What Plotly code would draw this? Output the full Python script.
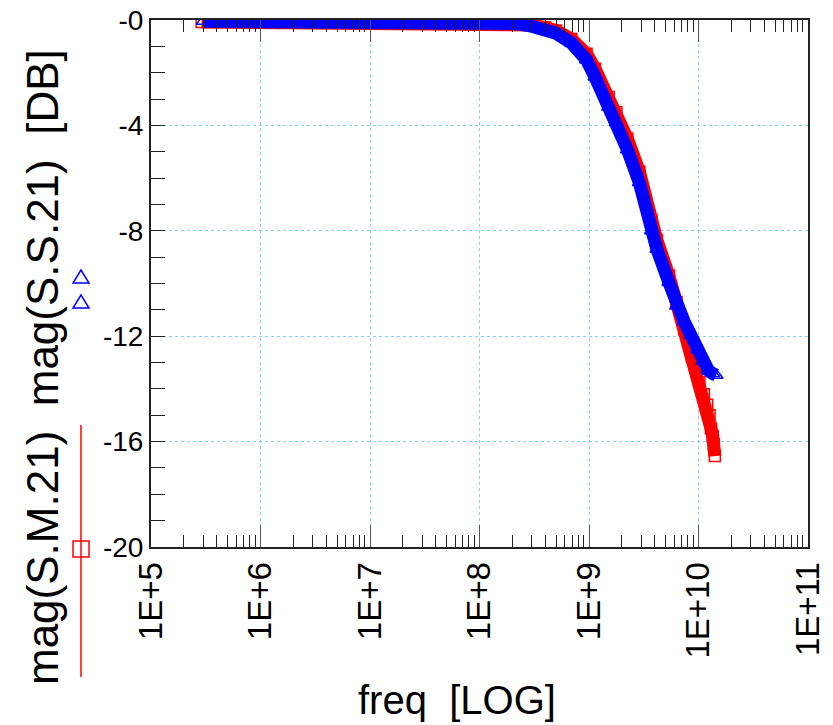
import plotly.graph_objects as go

# ---------------- data ----------------
# mag(S.M.21) [dB]  (red squares)
freq_sm = [2.9e5, 4.0e5, 6.0e5, 1.0e6, 1.5e6, 2.5e6, 4.0e6, 6.0e6, 1.0e7, 1.5e7,
           2.5e7, 4.0e7, 6.0e7, 1.0e8, 2.04e8, 2.88e8, 3.98e8, 5.0e8, 6.9e8,
           9.5e8, 1.135e9, 1.51e9, 1.78e9, 2.24e9, 2.88e9, 3.72e9, 4.17e9,
           5.37e9, 6.3e9, 7.4e9, 8.7e9, 1.02e10, 1.12e10, 1.2e10, 1.26e10,
           1.30e10, 1.35e10, 1.38e10, 1.41e10]
db_sm = [-0.08, -0.08, -0.08, -0.08, -0.08, -0.08, -0.08, -0.08, -0.08, -0.08,
         -0.08, -0.08, -0.08, -0.08, -0.13, -0.19, -0.28, -0.40, -0.72,
         -1.28, -1.85, -2.92, -3.50, -4.50, -5.75, -7.6, -8.35,
         -9.7, -10.7, -11.74, -12.77, -13.75, -14.2, -14.6, -15.0,
         -15.5, -15.8, -16.1, -16.55]

# mag(S.S.21) [dB]  (blue triangles)
freq_ss = [3.0e5, 4.0e5, 6.0e5, 1.0e6, 1.5e6, 2.5e6, 4.0e6, 6.0e6, 1.0e7, 1.5e7,
           2.5e7, 4.0e7, 6.0e7, 1.0e8, 2.04e8, 2.88e8, 3.98e8, 5.0e8, 6.9e8,
           9.5e8, 1.135e9, 1.51e9, 1.78e9, 2.24e9, 2.88e9, 3.72e9, 4.17e9,
           5.37e9, 6.3e9, 7.4e9, 8.5e9, 9.8e9, 1.1e10, 1.23e10, 1.35e10, 1.45e10]
db_ss = [-0.05, -0.05, -0.05, -0.05, -0.05, -0.05, -0.05, -0.05, -0.05, -0.05,
         -0.05, -0.05, -0.05, -0.05, -0.13, -0.22, -0.36, -0.50, -0.87,
         -1.52, -2.16, -3.30, -3.90, -4.92, -6.17, -8.0, -8.7,
         -9.96, -10.85, -11.45, -11.95, -12.5, -12.95, -13.3, -13.42, -13.48]

x_tickvals = [1e5, 1e6, 1e7, 1e8, 1e9, 1e10, 1e11]
x_ticktext = ["1E+5", "1E+6", "1E+7", "1E+8", "1E+9", "1E+10", "1E+11"]
y_tickvals = [0, -4, -8, -12, -16, -20]
y_ticktext = ["-0", "-4", "-8", "-12", "-16", "-20"]
x_minor = [m * 10 ** e for e in range(5, 11) for m in range(2, 10)]

# ---------------- figure ----------------
W, H = 833, 725
FONT = "Liberation Sans, Arial, Helvetica, sans-serif"
GRID = "#87cefa"


def px(x):
    return x / W


def py(y):
    return 1 - y / H


fig = go.Figure()
fig.add_trace(go.Scatter(
    x=freq_sm, y=db_sm, mode="lines+markers", showlegend=False,
    line=dict(color="#ff0000", width=13),
    marker=dict(symbol="square-open", size=11, color="#ff0000", line=dict(width=1.5)),
))
fig.add_trace(go.Scatter(
    x=freq_ss, y=db_ss, mode="lines+markers", showlegend=False,
    line=dict(color="#0000ff", width=13),
    marker=dict(symbol="triangle-up-open", size=12, color="#0000ff", line=dict(width=1.5)),
))

fig.update_layout(
    width=W, height=H,
    margin=dict(l=0, r=0, t=0, b=0),
    paper_bgcolor="white", plot_bgcolor="white",
    font=dict(family=FONT, color="black"),
    xaxis=dict(
        type="log", domain=[px(151), px(808)], range=[5, 11],
        tickmode="array", tickvals=x_tickvals, ticktext=x_ticktext,
        tickangle=-90, tickfont=dict(size=33, family=FONT, color="black"),
        ticks="inside", ticklen=22, tickwidth=1, tickcolor="#555",
        showgrid=True, gridcolor=GRID, griddash="dot", gridwidth=1,
        showline=True, linecolor="#222", linewidth=2, mirror="ticks",
        zeroline=False, automargin=False,
        minor=dict(tickmode="array", tickvals=x_minor, ticks="inside",
                   ticklen=12, tickwidth=1, tickcolor="#222", showgrid=False),
    ),
    yaxis=dict(
        domain=[py(547), py(20)], range=[-20, 0],
        tickmode="array", tickvals=y_tickvals, ticktext=y_ticktext,
        tickfont=dict(size=28, family=FONT, color="black"),
        ticks="inside", ticklen=14, tickwidth=1, tickcolor="#222",
        showgrid=True, gridcolor=GRID, griddash="dot", gridwidth=1,
        showline=True, linecolor="#222", linewidth=2, mirror=True,
        zeroline=False, automargin=False,
        minor=dict(tick0=0, dtick=1, ticks="inside", ticklen=14, tickwidth=1,
                   tickcolor="#222", showgrid=False),
    ),
    annotations=[
        dict(text="mag(S.M.21)\u00a0\u00a0mag(S.S.21)\u00a0\u00a0[DB]",
             xref="paper", yref="paper", x=px(42), y=py(367),
             xanchor="center", yanchor="middle", textangle=-90, showarrow=False,
             font=dict(size=44, family=FONT, color="black")),
        dict(text="freq\u00a0\u00a0[LOG]",
             xref="paper", yref="paper", x=px(457), y=py(700),
             xanchor="center", yanchor="middle", showarrow=False,
             font=dict(size=40, family=FONT, color="black")),
    ],
)

# legend glyphs beside the y title
shapes = [
    dict(type="line", xref="paper", yref="paper", x0=px(81), x1=px(81),
         y0=py(425), y1=py(677), line=dict(color="#ff0000", width=1.5)),
    dict(type="rect", xref="paper", yref="paper", x0=px(73), x1=px(89),
         y0=py(557), y1=py(541), line=dict(color="#ff0000", width=1.5)),
]
for cy in (277, 302):
    path = "M {:.5f} {:.5f} L {:.5f} {:.5f} L {:.5f} {:.5f} Z".format(
        px(73), py(cy + 6), px(89), py(cy + 6), px(81), py(cy - 7))
    shapes.append(dict(type="path", xref="paper", yref="paper", path=path,
                       line=dict(color="#0000ff", width=1.5)))
fig.update_layout(shapes=shapes)

fig.write_html("out.html", config={"displayModeBar": False},
               post_script="document.body.style.margin='0';")
